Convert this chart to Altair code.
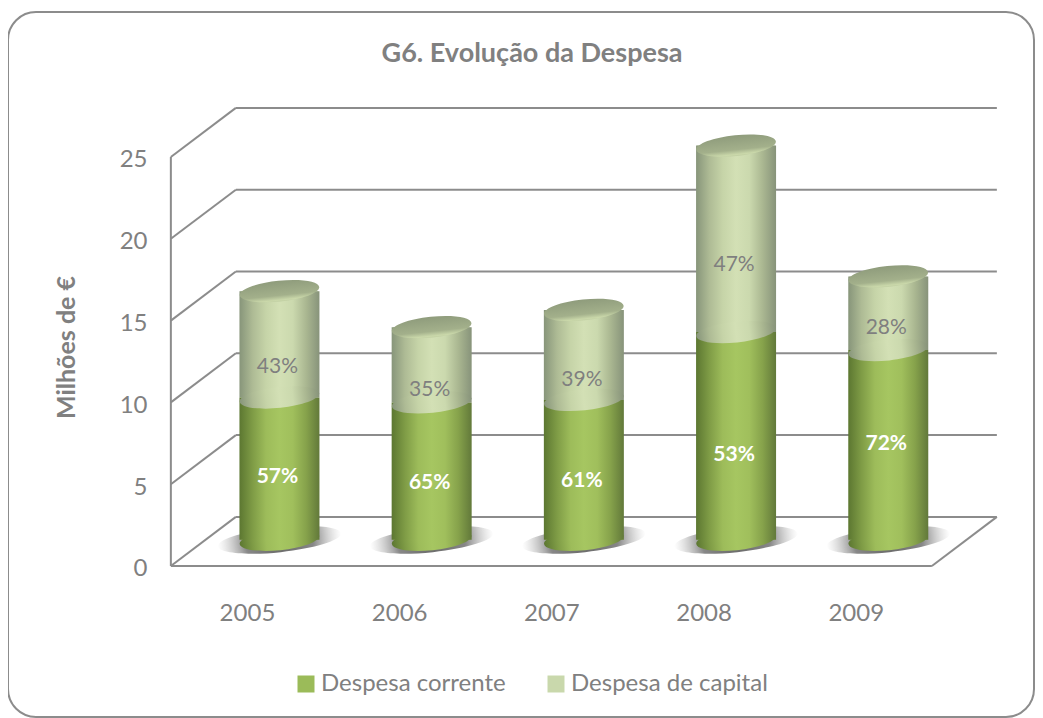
import altair as alt
import pandas as pd

years = [2005, 2006, 2007, 2008, 2009]
corrente = [8.8, 8.5, 8.65, 12.8, 11.7]
capital = [6.5, 4.6, 5.5, 11.4, 4.5]
pct_corrente = ["57%", "65%", "61%", "53%", "72%"]
pct_capital = ["43%", "35%", "39%", "47%", "28%"]
label_pos_corrente = [5.56, 5.2, 5.3, 6.9, 7.6]
label_pos_capital = [12.3, 10.9, 11.5, 18.5, 14.7]
ticks = [0, 5, 10, 15, 20, 25]
series = ["Despesa corrente", "Despesa de capital"]

DX, DY = 0.427, 3.0          # oblique depth, in data units
x_scale = alt.Scale(domain=[2003.430, 2010.171], nice=False, zero=False, padding=0)
y_scale = alt.Scale(domain=[-9.23, 33.863], nice=False, zero=False, padding=0)
FONT = "Lato"
GREY = "#808080"
LINE = "#8c8c8c"
BW = 80
ELL = "M-1,0 C-1,-.144 -.552,-.26 0,-.26 C.552,-.26 1,-.144 1,0 C1,.144 .552,.26 0,.26 C-.552,.26 -1,.144 -1,0Z"
SHADOW = "M-1,0 C-1,-.11 -.552,-.2 0,-.2 C.552,-.2 1,-.11 1,0 C1,.11 .552,.2 0,.2 C-.552,.2 -1,.11 -1,0Z"
TILT = 354


def grad(stops):
    n = len(stops) - 1
    return alt.LinearGradient(
        gradient="linear", x1=0, x2=1, y1=0, y2=0,
        stops=[alt.GradientStop(offset=i / n, color=c) for i, c in enumerate(stops)],
    )


G_COR = grad(["#5c7731", "#7f9c46", "#9dbc5a", "#a6c661", "#a0bf5c", "#86a24b", "#62793a"])
G_CAP = grad(["#87957a", "#aebb95", "#c6d4a8", "#d3e0b5", "#cbd9ae", "#aab791", "#87937a"])
G_TOP = alt.LinearGradient(
    gradient="linear", x1=0, x2=0, y1=0, y2=1,
    stops=[
        alt.GradientStop(offset=0, color="#8f9c7c"),
        alt.GradientStop(offset=0.7, color="#a3b08b"),
        alt.GradientStop(offset=0.93, color="#cad8aa"),
        alt.GradientStop(offset=1, color="#c0cea2"),
    ],
)
G_SHADOW = alt.RadialGradient(
    gradient="radial", x1=0.5, y1=0.5, r1=0, x2=0.5, y2=0.5, r2=0.5,
    stops=[
        alt.GradientStop(offset=0, color="rgba(70,70,70,0.85)"),
        alt.GradientStop(offset=0.55, color="rgba(85,85,85,0.7)"),
        alt.GradientStop(offset=1, color="rgba(160,160,160,0)"),
    ],
)

bars = pd.DataFrame({
    "x": [y + DX / 2 for y in years],
    "base": [DY / 2 + 0.1] * 5,
    "mid": [c + DY / 2 for c in corrente],
    "top": [c + k + DY / 2 for c, k in zip(corrente, capital)],
})
solid = pd.concat([
    pd.DataFrame({"x": bars.x, "y": bars.base, "y2": bars.mid, "serie": series[0]}),
    pd.DataFrame({"x": bars.x, "y": bars.mid, "y2": bars["top"], "serie": series[1]}),
])
left, right = years[0] - 0.5, years[-1] + 0.5
rules = pd.DataFrame(
    [{"x": left + DX, "x2": right + DX, "y": t + DY, "y2": t + DY} for t in ticks]
    + [{"x": left, "x2": left + DX, "y": t, "y2": t + DY} for t in ticks]
    + [{"x": left, "x2": left, "y": 0, "y2": 25},
       {"x": left, "x2": right, "y": 0, "y2": 0},
       {"x": right, "x2": right + DX, "y": 0, "y2": DY}]
)
labels = pd.DataFrame({
    "x": [y + DX / 2 for y in years],
    "pc": label_pos_corrente, "tc": pct_corrente,
    "pk": label_pos_capital, "tk": pct_capital,
})

X = alt.X("x:Q", scale=x_scale, axis=alt.Axis(
    values=years, format="d", orient="bottom", offset=-128, ticks=False, domain=False,
    grid=False, title="", labelFont=FONT, labelFontSize=24, labelColor=GREY, labelPadding=12,
))
Y = alt.Y("y:Q", scale=y_scale, axis=alt.Axis(
    values=ticks, orient="left", offset=-139, ticks=False, domain=False, grid=False,
    title="Milhões de €", titleFont=FONT, titleFontSize=25, titleFontWeight="bold",
    titleColor=GREY, titleX=-68, titleY=335, titleAngle=270, labelFont=FONT, labelFontSize=24,
    labelColor=GREY, labelPadding=0, labelOffset=3,
))
xp = alt.X("x:Q", scale=x_scale)


def yf(f):
    return alt.Y(f"{f}:Q", scale=y_scale)


grid = alt.Chart(rules).mark_rule(color=LINE, strokeWidth=2).encode(
    x=X, x2="x2:Q", y=Y, y2="y2:Q")

shadow = alt.Chart(bars).mark_point(
    shape=SHADOW, size=124 ** 2, filled=True, opacity=1, fill=G_SHADOW, strokeWidth=0, angle=TILT,
).encode(x=xp, y=yf("base"))

legend_bars = alt.Chart(solid).mark_bar(size=BW - 2).encode(
    x=xp, y=yf("y"), y2="y2:Q",
    color=alt.Color("serie:N", scale=alt.Scale(domain=series, range=["#9bbb59", "#c9d8ac"]),
                    legend=alt.Legend(
                        title=None, orient="none", legendX=286, legendY=660,
                        direction="horizontal", columns=2, columnPadding=38,
                        symbolType="square", symbolSize=289, symbolStrokeWidth=0, labelOffset=3,
                        labelFont=FONT, labelFontSize=24, labelColor=GREY, labelLimit=300,
                    )),
)


def ell(field, fill):
    return alt.Chart(bars).mark_point(
        shape=ELL, size=BW ** 2, filled=True, opacity=1, fill=fill, strokeWidth=0, angle=TILT,
    ).encode(x=xp, y=yf(field))


cor_bar = alt.Chart(bars).mark_bar(size=BW, fill=G_COR).encode(x=xp, y=yf("base"), y2="mid:Q")
cap_bar = alt.Chart(bars).mark_bar(size=BW, fill=G_CAP).encode(x=xp, y=yf("mid"), y2="top:Q")

txt_c = alt.Chart(labels).mark_text(
    font=FONT, fontSize=21, fontWeight="bold", color="white", dy=2, dx=-2).encode(x=xp, y=yf("pc"), text="tc:N")
txt_k = alt.Chart(labels).mark_text(
    font=FONT, fontSize=21, color="#7f7f7f", dy=2, dx=-2).encode(x=xp, y=yf("pk"), text="tk:N")

chart = alt.layer(
    grid, shadow, legend_bars,
    ell("base", G_COR), cor_bar,
    cap_bar, ell("mid", G_CAP),
    ell("top", G_TOP),
    txt_c, txt_k,
).properties(
    width=1026, height=705,
    autosize=alt.AutoSizeParams(type="none"),
    padding={"top": 4, "left": 0, "right": 1, "bottom": 1},
    background="white",
    title=alt.TitleParams(
        "G6. Evolução da Despesa", font=FONT, fontSize=27, fontWeight="bold", color=GREY,
        anchor="middle", dx=11, dy=56, offset=0,
    ),
).configure_view(stroke="#8c8c8c", strokeWidth=2, cornerRadius=28)

chart.save("out.html", embed_options={"renderer": "svg", "actions": False})
